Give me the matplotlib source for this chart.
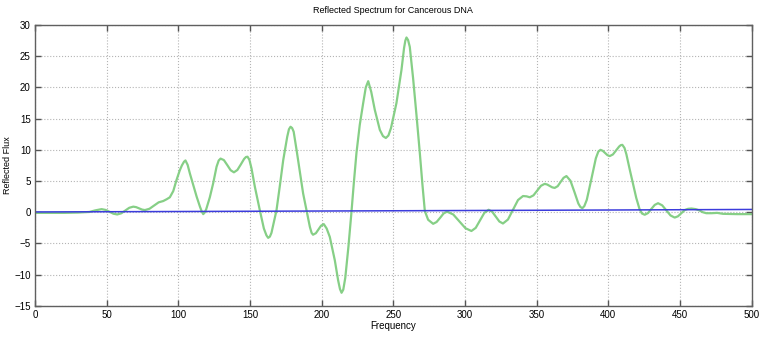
import matplotlib.pyplot as plt

# green curve: reflected flux
freq = [0, 10, 20, 30, 38, 42, 46.5, 49.2, 52, 54.7, 57.4, 60.2, 63, 65.8, 68.6,
        70.6, 72.7, 74.7, 76.7, 79.9, 83.1, 86.3, 89.5, 92, 94.1, 96.5, 98.8, 101,
        102.5, 104, 105, 106.5, 108.1, 110.5, 112.8, 115.1, 116.4, 117.4, 118.4,
        119.5, 122, 124.3, 126.7, 128.2, 129.5, 131.8, 134.2, 136.5, 138.8, 141.2,
        143.6, 145.9, 147.2, 148.3, 149.6, 151.1, 153.4, 156.9, 159.7, 161.5, 162.7,
        163.9, 165, 168.5, 171, 173.2, 176, 177.2, 178.3, 179.4, 180.5, 182.5,
        184.8, 187.1, 189.5, 191.8, 193, 194, 196, 197.8, 199.6, 201.5, 203.5, 205.7,
        209.2, 211.5, 212.8, 213.9, 215.1, 216.5, 218.7, 220.8, 222.5, 224.3, 226.6,
        229, 230.8, 232.5, 234.6, 237.1, 240.6, 242.8, 244.8, 246.6, 248.4, 252.2,
        255.7, 257.5, 258.4, 259.2, 260.3, 261.5, 263.8, 266.2, 268.5, 270.3, 272,
        274.3, 277.8, 280.2, 282.7, 285.1, 287.5, 291.8, 296, 300.3, 304.5, 307.5,
        310.5, 313.5, 316.5, 319, 321.5, 324, 326.5, 330, 333.5, 337, 340.5, 343,
        345.2, 347.8, 350.4, 353, 355.6, 357.3, 359.1, 360.9, 362.6, 364.7, 366.7,
        368.8, 370.8, 373.6, 376.4, 379.1, 380.5, 381.9, 383.3, 385, 388.2, 391.3,
        393, 394.5, 396.1, 397.8, 399.4, 401, 403.2, 405.4, 407.6, 408.7, 409.8,
        411.3, 412.6, 414.9, 417.2, 419.5, 421.8, 423.5, 425.4, 427.7, 430, 432.4,
        434.7, 437.6, 440.5, 443.4, 446.3, 448.6, 451, 453.3, 455.6, 458, 461, 463.5,
        466, 468.4, 472, 476, 480, 490, 500]
flux = [-0.1, -0.1, -0.1, -0.05, 0.05, 0.3, 0.5, 0.38, 0.08, -0.23, -0.35, -0.17,
        0.28, 0.72, 0.9, 0.82, 0.63, 0.43, 0.35, 0.56, 1.08, 1.59, 1.8, 2.1, 2.4,
        3.4, 5.2, 6.7, 7.5, 8.1, 8.3, 7.6, 6.2, 4.3, 2.5, 0.9, 0.1, -0.3, -0.05,
        0.5, 2.4, 4.6, 7.3, 8.3, 8.6, 8.36, 7.55, 6.74, 6.4, 6.77, 7.65, 8.54, 8.85,
        8.9, 8.4, 7.0, 4.1, 0.3, -2.6, -3.7, -4.1, -3.9, -3.3, 0.3, 4.5, 8.35, 12.1,
        13.3, 13.7, 13.5, 12.9, 10.0, 6.5, 3.0, 0.3, -2.35, -3.3, -3.6, -3.35,
        -2.75, -2.15, -1.9, -2.6, -3.95, -7.7, -10.9, -12.3, -12.9, -12.4, -10.5,
        -5.5, 0.0, 4.8, 9.5, 14.0, 17.5, 20.0, 21.0, 19.3, 16.4, 13.2, 12.2, 11.9,
        12.3, 13.5, 17.5, 22.8, 26.3, 27.5, 28.0, 27.6, 26.5, 21.5, 15.5, 9.5, 4.5,
        0.2, -1.2, -1.85, -1.56, -0.88, -0.19, 0.1, -0.35, -1.45, -2.55, -3.0, -2.5,
        -1.3, -0.1, 0.4, 0.08, -0.7, -1.48, -1.8, -1.16, 0.4, 1.96, 2.6, 2.55, 2.4,
        2.71, 3.48, 4.24, 4.55, 4.45, 4.22, 3.99, 3.9, 4.18, 4.85, 5.52, 5.8, 5.05,
        3.23, 1.4, 0.85, 0.65, 1.0, 2.0, 5.33, 8.64, 9.7, 10.0, 9.85, 9.5, 9.15, 9.0,
        9.26, 9.9, 10.54, 10.75, 10.8, 10.3, 9.3, 6.9, 4.6, 2.3, 0.5, -0.2, -0.4,
        -0.13, 0.53, 1.18, 1.45, 1.11, 0.3, -0.51, -0.85, -0.65, -0.15, 0.35, 0.55,
        0.6, 0.5, 0.3, 0.0, -0.15, -0.15, -0.1, -0.25, -0.3, -0.3]

# blue reference line
ref_freq = [0, 100, 200, 300, 400, 500]
ref_flux = [0.05, 0.12, 0.2, 0.28, 0.36, 0.45]

xticks = [0, 50, 100, 150, 200, 250, 300, 350, 400, 450, 500]
yticks = [-15, -10, -5, 0, 5, 10, 15, 20, 25, 30]

plt.rcParams['font.family'] = ['Liberation Sans', 'DejaVu Sans']

fig = plt.figure(figsize=(7.6, 3.38), dpi=100)
ax = fig.add_axes([0.046, 0.095, 0.943, 0.831])

ax.plot(freq, flux, color='#86cf86', linewidth=1.6)
ax.plot(ref_freq, ref_flux, color='#3c3cdc', linewidth=1.1)

ax.set_xlim(0, 500)
ax.set_ylim(-15, 30)
ax.set_xticks(xticks)
ax.set_yticks(yticks)
ax.tick_params(direction='in', top=True, right=True, length=4, width=1,
               labelsize=7, color='#555555', pad=3)
ax.grid(True, linestyle=':', color='#b4b4b4', linewidth=0.8)
for s in ax.spines.values():
    s.set_color('#606060')
    s.set_linewidth(1.0)

ax.set_title("Reflected Spectrum for Cancerous DNA", fontsize=6.5, pad=9)
ax.set_xlabel("Frequency", fontsize=7, labelpad=1)
ax.set_ylabel("Reflected Flux", fontsize=6.5, labelpad=2)

fig.savefig("out.png", dpi=100)
